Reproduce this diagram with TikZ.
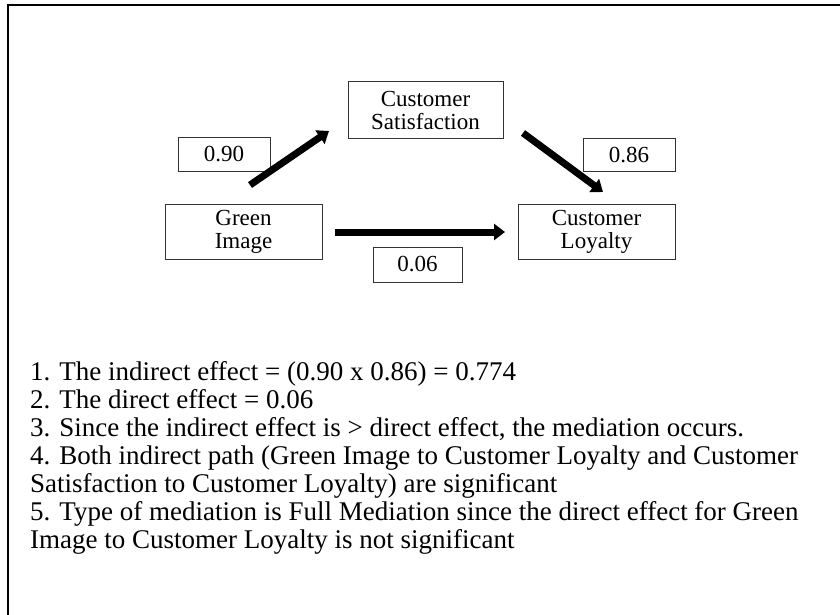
\documentclass[tikz,border=0pt]{standalone}
\usepackage{fontspec}
\setmainfont{Liberation Serif}
\usetikzlibrary{arrows.meta}
\begin{document}
\begin{tikzpicture}[x=1pt,y=-1pt,
  box/.style={draw=black!80,line width=1pt,fill=white,inner sep=0pt,align=center,
    font=\fontsize{23}{23}\selectfont},
  numbox/.style={box},
  patharrow/.style={line width=7pt,-{Triangle[length=11pt,width=16pt]}},
  listline/.style={anchor=base west,inner sep=0pt,font=\fontsize{27}{28}\selectfont}]
\useasboundingbox (0,0) rectangle (840,615);
\draw[line width=2pt] (8,620) -- (8,5) -- (845,5);
% boxes
\node[box,minimum width=157pt,minimum height=55pt] (gi) at (243.5,231.5) {Green\\Image};
\node[box,minimum width=155pt,minimum height=56pt] (cs) at (425.5,110) {Customer\\Satisfaction};
\node[box,minimum width=157pt,minimum height=55pt] (cl) at (596.5,231.5) {Customer\\Loyalty};
\node[numbox,minimum width=92pt,minimum height=34pt] (b90) at (224,154) {0.90};
\node[numbox,minimum width=92pt,minimum height=33pt] (b86) at (629,155) {0.86};
\node[numbox,minimum width=89pt,minimum height=35pt] (b06) at (417.5,264.5) {0.06};
% arrows
\coordinate (a1s) at (250,185);
\coordinate (a1e) at (329,131);
\coordinate (a2s) at (523,133);
\coordinate (a2e) at (603,192);
\coordinate (a3s) at (335,232);
\coordinate (a3e) at (505,232);
\draw[patharrow] (a1s) -- (a1e);
\draw[patharrow] (a2s) -- (a2e);
\draw[patharrow] (a3s) -- (a3e);
% text
\node[listline] (t1) at (30,380) {1. The indirect effect = (0.90 x 0.86) = 0.774};
\node[listline] (t2) at (30,408) {2. The direct effect = 0.06};
\node[listline] (t3) at (30,436) {3. Since the indirect effect is > direct effect, the mediation occurs.};
\node[listline] (t4) at (30,464) {4. Both indirect path (Green Image to Customer Loyalty and Customer};
\node[listline] (t5) at (30,492) {Satisfaction to Customer Loyalty) are significant};
\node[listline] (t6) at (30,520) {5. Type of mediation is Full Mediation since the direct effect for Green};
\node[listline] (t7) at (30,548) {Image to Customer Loyalty is not significant};
\end{tikzpicture}
\end{document}
